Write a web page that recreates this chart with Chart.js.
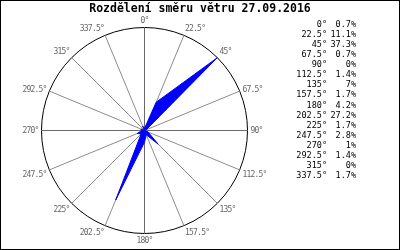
<!DOCTYPE html>
<html>
<head>
<meta charset="utf-8">
<script src="https://cdn.jsdelivr.net/npm/chart.js@4"></script>
<style>
  html, body { margin: 0; padding: 0; background: #fff; }
  #wrap { width: 400px; height: 250px; }
</style>
</head>
<body>
<div id="wrap"><canvas id="rose" width="400" height="250"></canvas></div>
<script>
// Větrná růžice - rozdělení směru větru
const chartTitle = "Rozdělení směru větru 27.09.2016";
const directions = [0, 22.5, 45, 67.5, 90, 112.5, 135, 157.5, 180, 202.5, 225, 247.5, 270, 292.5, 315, 337.5];
const percent = [0.7, 11.1, 37.3, 0.7, 0, 1.4, 7, 1.7, 4.2, 27.2, 1.7, 2.8, 1, 1.4, 0, 1.7];
const dirLabels = directions.map(d => d + "°");
const pctLabels = percent.map(p => p + "%");
const rMax = Math.max(...percent);

const MONO = "'DejaVu Sans Mono', 'Liberation Mono', monospace";

// popisky, tabulka vpravo, titulek a ramecek
const roseDecor = {
  id: "roseDecor",
  beforeDraw(chart) {
    chart.ctx.save();
    chart.ctx.translate(0.5, 0.5);
  },
  afterDatasetsDraw(chart) {
    chart.ctx.restore();
  },
  afterDraw(chart) {
    const ctx = chart.ctx;
    const scale = chart.scales.r;
    ctx.save();

    // titulek
    ctx.fillStyle = "#000";
    ctx.font = "bold 11.5px " + MONO;
    ctx.textAlign = "center";
    ctx.textBaseline = "middle";
    ctx.fillText(chartTitle, 200, 9);

    // popisky smeru kolem kruhu
    ctx.fillStyle = "#666";
    ctx.font = "8px " + MONO;
    ctx.letterSpacing = "-0.8px";
    dirLabels.forEach((lab, i) => {
      const a = directions[i] * Math.PI / 180;
      const s = Math.sin(a), c = Math.cos(a);
      const p = scale.getPointPosition(i, scale.drawingArea + 3);
      ctx.textAlign = Math.abs(s) < 0.1 ? "center" : (s > 0 ? "left" : "right");
      ctx.textBaseline = c > 0.5 ? "bottom" : (c < -0.2 ? "top" : "middle");
      ctx.fillText(lab, p.x + 0.5, p.y + 0.5);
    });

    // tabulka hodnot
    ctx.letterSpacing = "0px";
    ctx.fillStyle = "#000";
    ctx.font = "8.5px " + MONO;
    ctx.textBaseline = "middle";
    ctx.textAlign = "right";
    dirLabels.forEach((lab, i) => {
      const y = 24.5 + i * 10.1;
      ctx.fillText(lab, 327, y);
      ctx.fillText(pctLabels[i], 356, y);
    });

    // ramecek
    ctx.strokeStyle = "#000";
    ctx.lineWidth = 1;
    ctx.strokeRect(0.5, 0.5, 399, 249);
    ctx.restore();
  }
};

new Chart(document.getElementById("rose"), {
  type: "radar",
  data: {
    labels: dirLabels,
    datasets: [{
      data: percent,
      backgroundColor: "#0000ff",
      borderColor: "#0000ff",
      borderWidth: 1,
      fill: true,
      pointRadius: 0,
      tension: 0
    }]
  },
  options: {
    responsive: false,
    animation: false,
    layout: { padding: { left: 41, top: 27, right: 153, bottom: 17 } },
    plugins: {
      legend: { display: false },
      tooltip: { enabled: false }
    },
    scales: {
      r: {
        min: 0,
        max: rMax,
        ticks: { display: false, stepSize: rMax },
        grid: { color: "#000", lineWidth: 1, circular: true },
        angleLines: {
          color: ctx => (ctx.index % 4 === 0 ? "#6a6a6a" : "#8c8c8c"),
          lineWidth: 1
        },
        pointLabels: { display: false }
      }
    }
  },
  plugins: [roseDecor]
});
</script>
</body>
</html>
